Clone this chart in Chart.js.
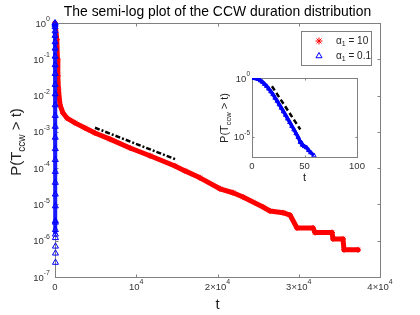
<!DOCTYPE html>
<html>
<head>
<meta charset="utf-8">
<script src="https://cdn.jsdelivr.net/npm/chart.js@4.4.1/dist/chart.umd.min.js"></script>
<style>
  html, body { margin: 0; padding: 0; background: #fff; }
  #wrap { position: relative; width: 420px; height: 315px; }
  #mainChart { position: absolute; left: 0; top: 0; }
  #insetChart { position: absolute; left: 200px; top: 65px; }
</style>
</head>
<body>
<div id="wrap">
  <canvas id="mainChart" width="420" height="315"></canvas>
  <canvas id="insetChart" width="170" height="130"></canvas>
</div>
<script>
// alpha_1 = 10 (red stars)
const redT = [0, 220, 300, 350, 420, 615, 985, 1477, 2462, 3692, 4923, 6769, 9231, 11692, 14769, 16000,
  17846, 20308, 21908, 23138, 25600, 26462, 28062, 28923, 29785, 31754, 32000, 34092, 34215, 35446,
  35570, 37292];
const redP = [1, 0.35, 0.1, 0.035, 0.015, 5.5e-3, 3.3e-3, 2.4e-3, 1.77e-3, 1.28e-3, 9.3e-4, 6.3e-4, 3.6e-4,
  2.2e-4, 1.15e-4, 8.4e-5, 5.4e-5, 2.7e-5, 2.1e-5, 1.6e-5, 8.5e-6, 6.6e-6, 5.9e-6, 5.1e-6, 2.24e-6,
  2.24e-6, 1.68e-6, 1.68e-6, 1.12e-6, 1.12e-6, 5.6e-7, 5.6e-7];

// alpha_1 = 0.1 (blue triangles)
const blueT = [0, 2, 4, 6, 8, 10, 12, 14, 16, 18, 20, 22, 24, 26, 28, 30, 32, 34, 36, 38, 40, 42, 44,
  46, 47, 48, 50, 52, 54, 56, 59];
const blueP = [1, 0.97, 0.9, 0.78, 0.6, 0.45, 0.3, 0.2, 0.12, 0.07, 0.04, 0.02, 0.011, 0.0055, 0.0028,
  0.0014, 7e-4, 3.4e-4, 1.7e-4, 8e-5, 4e-5, 1.9e-5, 9e-6, 3.5e-6, 3.2e-6, 2e-6, 1.5e-6, 1.2e-6, 7e-7,
  4.5e-7, 2.5e-7];

// guide lines
const mainGuideT = [4923, 14978];
const mainGuideP = [1.3e-3, 1.7e-4];
const insetGuideT = [19, 46];
const insetGuideP = [0.2, 4.2e-5];

// ticks
const mainXTicks = [0, 10000, 20000, 30000, 40000];
const mainXLabels = [['0', ''], ['10', '4'], ['2\u00d710', '4'], ['3\u00d710', '4'], ['4\u00d710', '4']];
const mainYTicks = [1e-7, 1e-6, 1e-5, 1e-4, 1e-3, 1e-2, 1e-1, 1];
const mainYExp = ['-7', '-6', '-5', '-4', '-3', '-2', '-1', '0'];
const insetXTicks = [0, 50, 100];
const insetXLabels = ['0', '50', '100'];
const insetYTicks = [1e-5, 1];
const insetYExp = ['-5', '0'];

const legendNames = ['10', '0.1'];
const titleText = 'The semi-log plot of the CCW duration distribution';

const FONT = '"Liberation Sans", Arial, sans-serif';
const AXIS = '#808080';
const LABEL = '#333';

function pts(xs, ys) {
  return xs.map((x, i) => ({ x: x, y: ys[i] }));
}

function supLabel(ctx, x, y, base, exp, size, expSize, align) {
  ctx.font = size + 'px ' + FONT;
  const wb = ctx.measureText(base).width;
  ctx.font = expSize + 'px ' + FONT;
  const we = exp ? ctx.measureText(exp).width : 0;
  const w = wb + we;
  const left = align === 'right' ? x - w : x - w / 2;
  ctx.textAlign = 'left';
  ctx.textBaseline = 'middle';
  ctx.font = size + 'px ' + FONT;
  ctx.fillText(base, left, y);
  if (exp) {
    ctx.font = expSize + 'px ' + FONT;
    ctx.fillText(exp, left + wb, y - size * 0.5);
  }
}

// text pieces [text, sub?], drawn centred at (x, y), rotated if vertical
function pieceLabel(ctx, x, y, pieces, size, subSize, vertical) {
  ctx.save();
  ctx.translate(x, y);
  if (vertical) ctx.rotate(-Math.PI / 2);
  let w = 0;
  pieces.forEach(p => {
    ctx.font = (p[1] ? subSize : size) + 'px ' + FONT;
    w += ctx.measureText(p[0]).width;
  });
  let cx = -w / 2;
  ctx.textAlign = 'left';
  ctx.textBaseline = 'middle';
  pieces.forEach(p => {
    ctx.font = (p[1] ? subSize : size) + 'px ' + FONT;
    ctx.fillText(p[0], cx, p[1] ? size * 0.35 : 0);
    cx += ctx.measureText(p[0]).width;
  });
  ctx.restore();
}

function framePlugin(cfg) {
  return {
    id: 'frame',
    beforeDraw(chart) {
      const { ctx, chartArea: a } = chart;
      ctx.save();
      ctx.fillStyle = '#fff';
      ctx.fillRect(a.left, a.top, a.right - a.left, a.bottom - a.top);
      ctx.restore();
    },
    beforeDatasetsDraw(chart) {
      const { ctx, chartArea: a, scales } = chart;
      const L = Math.round(a.left) + 0.5, R = Math.round(a.right) + 0.5;
      const T = Math.round(a.top) + 0.5, B = Math.round(a.bottom) + 0.5;
      ctx.save();
      ctx.strokeStyle = AXIS;
      ctx.lineWidth = 1;
      ctx.strokeRect(L, T, R - L, B - T);
      ctx.beginPath();
      cfg.xTicks.forEach(v => {
        const px = Math.round(scales.x.getPixelForValue(v)) + 0.5;
        ctx.moveTo(px, B); ctx.lineTo(px, B - cfg.tickLen);
        ctx.moveTo(px, T); ctx.lineTo(px, T + cfg.tickLen);
      });
      cfg.yTicks.forEach(v => {
        const py = Math.round(scales.y.getPixelForValue(v)) + 0.5;
        ctx.moveTo(L, py); ctx.lineTo(L + cfg.tickLen, py);
        ctx.moveTo(R, py); ctx.lineTo(R - cfg.tickLen, py);
      });
      ctx.stroke();
      ctx.restore();
    },
    afterDraw(chart) {
      const { ctx, chartArea: a, scales } = chart;
      ctx.save();
      ctx.fillStyle = LABEL;
      cfg.yTicks.forEach((v, i) => {
        const py = scales.y.getPixelForValue(v);
        supLabel(ctx, a.left - cfg.yLabelGap, py + 1, '10', cfg.yExp[i], cfg.tickFont, cfg.expFont, 'right');
      });
      cfg.xTicks.forEach((v, i) => {
        const px = scales.x.getPixelForValue(v);
        const lab = cfg.xLabels[i];
        supLabel(ctx, px, a.bottom + cfg.xLabelGap, lab[0], lab[1], cfg.tickFont, cfg.expFont, 'center');
      });
      ctx.fillStyle = '#222';
      pieceLabel(ctx, (a.left + a.right) / 2, a.bottom + cfg.xTitleGap, [['t', false]], cfg.titleFont, 9, false);
      pieceLabel(ctx, cfg.yTitleX, cfg.yTitleY,
        [['P(T', false], ['ccw', true], [' > t)', false]], cfg.titleFont, cfg.subFont, true);
      if (cfg.extra) cfg.extra(chart);
      ctx.restore();
    }
  };
}

function drawMainExtras(chart) {
  const ctx = chart.ctx;
  ctx.fillStyle = '#000';
  ctx.font = '13.9px ' + FONT;
  ctx.textAlign = 'center';
  ctx.textBaseline = 'middle';
  ctx.fillText(titleText, 217.5, 12);

  // legend box
  ctx.fillStyle = '#fff';
  ctx.fillRect(301.5, 31.5, 70, 34);
  ctx.strokeStyle = AXIS;
  ctx.lineWidth = 1;
  ctx.strokeRect(301.5, 31.5, 70, 34);
  const ds = chart.data.datasets;
  [0, 1].forEach(i => {
    const y = 41 + i * 15;
    ctx.strokeStyle = ds[i].pointBorderColor;
    ctx.fillStyle = 'rgba(0,0,0,0)';
    ctx.lineWidth = 1;
    Chart.helpers.drawPoint(ctx, { pointStyle: ds[i].pointStyle, radius: 3.5, borderWidth: 1, rotation: 0 }, 319, y);
    ctx.fillStyle = '#222';
    ctx.font = '10px ' + FONT;
    ctx.textAlign = 'left';
    ctx.textBaseline = 'middle';
    ctx.fillText('\u03b1', 336, y);
    const wa = ctx.measureText('\u03b1').width;
    ctx.font = '7px ' + FONT;
    ctx.fillText('1', 336 + wa, y + 3.5);
    const w1 = ctx.measureText('1').width;
    ctx.font = '10px ' + FONT;
    ctx.fillText(' = ' + legendNames[i], 336 + wa + w1, y);
  });
}

const mainChart = new Chart(document.getElementById('mainChart'), {
  type: 'scatter',
  data: {
    datasets: [
      {
        label: '\u03b11 = 10',
        data: pts(redT, redP),
        order: 1,
        showLine: true,
        clip: false,
        borderColor: '#ff0000',
        borderWidth: 5,
        borderCapStyle: 'round',
        borderJoinStyle: 'round',
        pointStyle: 'star',
        pointRadius: 3,
        pointBorderColor: '#ff0000',
        pointBackgroundColor: '#ff0000',
        pointBorderWidth: 1
      },
      {
        label: '\u03b11 = 0.1',
        data: pts(blueT, blueP),
        order: 0,
        showLine: true,
        clip: false,
        borderColor: '#0000ff',
        borderWidth: 4,
        segment: {
          borderColor: c => (c.p1.parsed.y < 1.5e-6 ? 'rgba(0,0,0,0)' : '#1a1aff')
        },
        pointStyle: 'triangle',
        pointRadius: 3.5,
        pointBorderColor: '#0000ff',
        pointBackgroundColor: 'rgba(0,0,0,0)',
        pointBorderWidth: 1
      },
      {
        label: 'guide',
        data: pts(mainGuideT, mainGuideP),
        order: 2,
        showLine: true,
        borderColor: '#000',
        borderWidth: 2.5,
        borderDash: [5, 2, 2, 2],
        pointRadius: 0
      }
    ]
  },
  options: {
    responsive: false,
    animation: false,
    devicePixelRatio: 1,
    layout: { padding: { left: 0, right: 40, top: 23, bottom: 0 } },
    plugins: { legend: { display: false }, tooltip: { enabled: false } },
    scales: {
      x: {
        type: 'linear', min: 0, max: 40000,
        grid: { display: false }, border: { display: false }, ticks: { display: false },
        afterFit: s => { s.height = 38; }
      },
      y: {
        type: 'logarithmic', min: 1e-7, max: 1,
        grid: { display: false }, border: { display: false }, ticks: { display: false },
        afterFit: s => { s.width = 55; }
      }
    }
  },
  plugins: [framePlugin({
    xTicks: mainXTicks, xLabels: mainXLabels, yTicks: mainYTicks, yExp: mainYExp,
    tickLen: 3, tickFont: 9.5, expFont: 7, yLabelGap: 5, xLabelGap: 10, xTitleGap: 28,
    titleFont: 15, subFont: 10, yTitleX: 17, yTitleY: 142, extra: drawMainExtras
  })]
});

const insetChart = new Chart(document.getElementById('insetChart'), {
  type: 'scatter',
  data: {
    datasets: [
      {
        label: 'blue',
        data: pts(blueT, blueP),
        showLine: true,
        borderColor: '#0000ff',
        borderWidth: 3.5,
        pointStyle: 'triangle',
        pointRadius: 2.5,
        pointBorderColor: '#0000ff',
        pointBackgroundColor: 'rgba(0,0,0,0)',
        pointBorderWidth: 1
      },
      {
        label: 'guide',
        data: pts(insetGuideT, insetGuideP),
        showLine: true,
        borderColor: '#000',
        borderWidth: 2.5,
        borderDash: [5, 3],
        pointRadius: 0
      }
    ]
  },
  options: {
    responsive: false,
    animation: false,
    devicePixelRatio: 1,
    layout: { padding: { left: 0, right: 13, top: 13, bottom: 0 } },
    plugins: { legend: { display: false }, tooltip: { enabled: false } },
    scales: {
      x: {
        type: 'linear', min: 0, max: 100,
        grid: { display: false }, border: { display: false }, ticks: { display: false },
        afterFit: s => { s.height = 38; }
      },
      y: {
        type: 'logarithmic', min: 1.9e-7, max: 1,
        grid: { display: false }, border: { display: false }, ticks: { display: false },
        afterFit: s => { s.width = 52; }
      }
    }
  },
  plugins: [framePlugin({
    xTicks: insetXTicks, xLabels: insetXLabels.map(s => [s, '']), yTicks: insetYTicks, yExp: insetYExp,
    tickLen: 2, tickFont: 9.5, expFont: 6.5, yLabelGap: 2, xLabelGap: 9, xTitleGap: 21,
    titleFont: 11, subFont: 7.5, yTitleX: 25, yTitleY: 53
  })]
});
</script>
</body>
</html>
